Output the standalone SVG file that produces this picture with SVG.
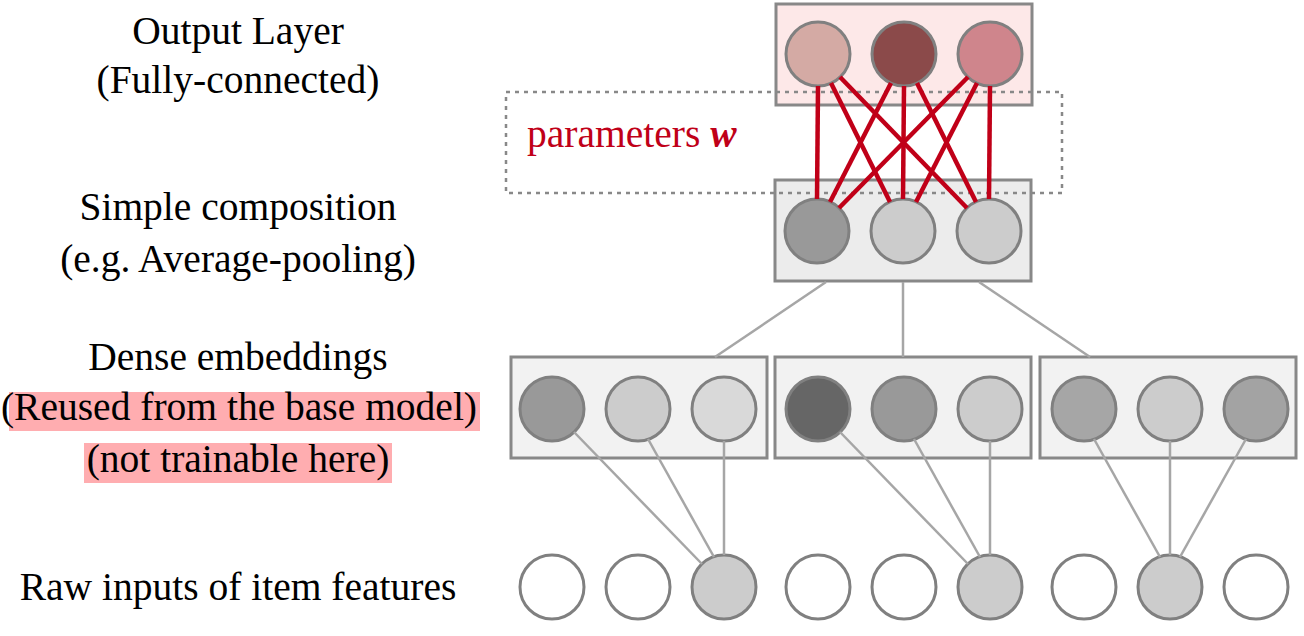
<svg xmlns="http://www.w3.org/2000/svg" width="1304" height="636" viewBox="0 0 1304 636">
<style>
.t{font-family:"Liberation Serif","Times New Roman",serif;font-size:39.5px;fill:#000;text-anchor:middle}
.box{stroke:#888;stroke-width:3}
.c{stroke:#808080;stroke-width:3}
.g{stroke:#a6a6a6;stroke-width:2.5;fill:none}
.r{stroke:#c00018;stroke-width:4.5;fill:none}
</style>
<rect width="1304" height="636" fill="#fff"/>
<g id="labels">
<text class="t" x="238" y="44">Output Layer</text>
<text class="t" x="238" y="93">(Fully-connected)</text>
<text class="t" x="238" y="220">Simple composition</text>
<text class="t" x="238" y="272">(e.g. Average-pooling)</text>
<text class="t" x="238" y="370">Dense embeddings</text>
<rect x="9" y="392" width="471" height="39" fill="#ffadb0"/>
<rect x="84" y="443" width="308" height="40" fill="#ffadb0"/>
<text class="t" x="239" y="420">(Reused from the base model)</text>
<text class="t" x="238" y="472">(not trainable here)</text>
<text class="t" x="238" y="600">Raw inputs of item features</text>
</g>
<g id="output-layer">
<rect class="box" x="776" y="4" width="256" height="101" fill="#fde8e8"/>
<circle class="c" cx="818" cy="54" r="32" fill="#d4aaa4"/>
<circle class="c" cx="904" cy="54" r="32" fill="#8b4a4a"/>
<circle class="c" cx="990" cy="54" r="32" fill="#cf858c"/>
</g>
<g id="composition">
<rect class="box" x="775" y="180" width="256" height="101" fill="#ececec"/>
<circle class="c" cx="817" cy="231" r="32" fill="#999"/>
<circle class="c" cx="903" cy="231" r="32" fill="#ccc"/>
<circle class="c" cx="989" cy="231" r="32" fill="#ccc"/>
</g>
<g id="parameters">
<rect x="506" y="92" width="556" height="101" fill="none" stroke="#888" stroke-width="2.5" stroke-dasharray="4,5"/>
<text x="527" y="147" font-family="Liberation Serif, Times New Roman, serif" font-size="39.5" fill="#c00018">parameters <tspan font-weight="bold" font-style="italic">w</tspan></text>
</g>
<g id="embeddings-1">
<rect class="box" x="511" y="357" width="256" height="101" fill="#f2f2f2"/>
<circle class="c" cx="552" cy="409" r="32" fill="#999"/>
<circle class="c" cx="638" cy="409" r="32" fill="#ccc"/>
<circle class="c" cx="724" cy="409" r="32" fill="#d9d9d9"/>
</g>
<g id="embeddings-2">
<rect class="box" x="775" y="357" width="256" height="101" fill="#f2f2f2"/>
<circle class="c" cx="818" cy="409" r="32" fill="#666"/>
<circle class="c" cx="904" cy="409" r="32" fill="#999"/>
<circle class="c" cx="990" cy="409" r="32" fill="#ccc"/>
</g>
<g id="embeddings-3">
<rect class="box" x="1040" y="357" width="256" height="101" fill="#f2f2f2"/>
<circle class="c" cx="1084" cy="409" r="32" fill="#a6a6a6"/>
<circle class="c" cx="1170" cy="409" r="32" fill="#ccc"/>
<circle class="c" cx="1256" cy="409" r="32" fill="#a3a3a3"/>
</g>
<g id="inputs">
<circle class="c" cx="552" cy="587" r="32" fill="#fff"/>
<circle class="c" cx="638" cy="587" r="32" fill="#fff"/>
<circle class="c" cx="724" cy="587" r="32" fill="#ccc"/>
<circle class="c" cx="818" cy="587" r="32" fill="#fff"/>
<circle class="c" cx="904" cy="587" r="32" fill="#fff"/>
<circle class="c" cx="990" cy="587" r="32" fill="#ccc"/>
<circle class="c" cx="1084" cy="587" r="32" fill="#fff"/>
<circle class="c" cx="1170" cy="587" r="32" fill="#ccc"/>
<circle class="c" cx="1256" cy="587" r="32" fill="#fff"/>
</g>
<g id="connectors">
<line class="g" x1="826" y1="282" x2="715" y2="357"/>
<line class="g" x1="903" y1="282" x2="903" y2="357"/>
<line class="g" x1="979" y1="282" x2="1090" y2="357"/>
<line class="g" x1="574" y1="432" x2="702" y2="564"/>
<line class="g" x1="648" y1="439" x2="714" y2="557"/>
<line class="g" x1="724" y1="441" x2="724" y2="555"/>
<line class="g" x1="840" y1="432" x2="968" y2="564"/>
<line class="g" x1="914" y1="439" x2="980" y2="557"/>
<line class="g" x1="990" y1="441" x2="990" y2="555"/>
<line class="g" x1="1094" y1="439" x2="1160" y2="557"/>
<line class="g" x1="1170" y1="441" x2="1170" y2="555"/>
<line class="g" x1="1246" y1="439" x2="1180" y2="557"/>
<line class="r" x1="818" y1="86" x2="817" y2="199"/>
<line class="r" x1="831" y1="83" x2="890" y2="202"/>
<line class="r" x1="840" y1="77" x2="967" y2="208"/>
<line class="r" x1="891" y1="83" x2="830" y2="202"/>
<line class="r" x1="904" y1="86" x2="903" y2="199"/>
<line class="r" x1="917" y1="83" x2="976" y2="202"/>
<line class="r" x1="968" y1="77" x2="839" y2="208"/>
<line class="r" x1="977" y1="83" x2="916" y2="202"/>
<line class="r" x1="990" y1="86" x2="989" y2="199"/>
</g>
</svg>
